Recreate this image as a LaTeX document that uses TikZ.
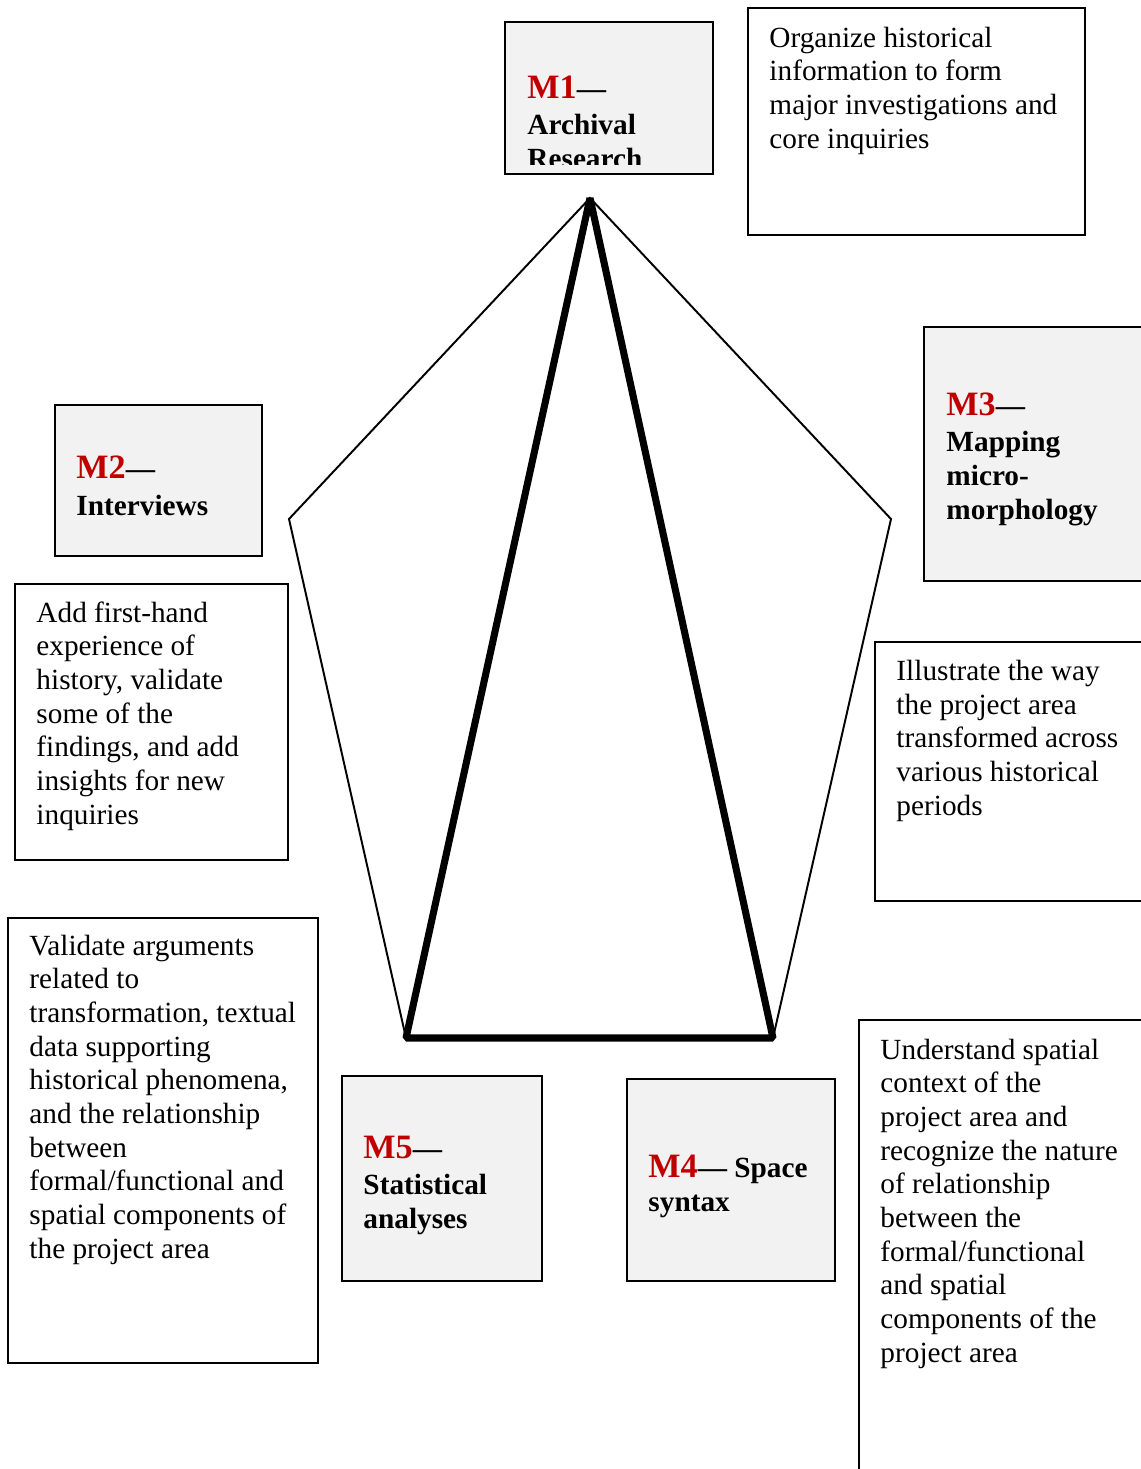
\documentclass[tikz,border=0pt]{standalone}
\usepackage{fontspec}
\setmainfont{Liberation Serif}
\definecolor{mred}{HTML}{C00000}
\definecolor{mgray}{HTML}{F2F2F2}
\tikzset{
  box/.style={draw=black, line width=1pt},
  mbox/.style={box, fill=mgray},
  txt/.style={anchor=base west, inner sep=0pt, align=left, font=\fontsize{12}{13.8}\selectfont},
  mtxt/.style={txt, font=\fontsize{12}{13.8}\selectfont\bfseries},
}
\newcommand{\mlab}[1]{{\color{mred}\fontsize{14}{13.8}\selectfont #1}}
\begin{document}
\begin{tikzpicture}[x=0.41pt, y=-0.41pt]
\useasboundingbox (0,0) rectangle (1141,1469);

% pentagon and triangle
\coordinate (top) at (590,198);
\coordinate (left) at (289,519);
\coordinate (right) at (891,519);
\coordinate (botl) at (406,1038);
\coordinate (botr) at (773,1038);

\draw[black, line width=0.8pt] (top) -- (left) -- (botl) -- (botr) -- (right) -- cycle;
\draw[black, line width=2.9pt, line join=bevel] (top) -- (botl) -- (botr) -- cycle;

% method boxes
\draw[mbox] (505,22) rectangle (713,174);
\draw[mbox] (55,405) rectangle (262,556);
\draw[mbox] (924,327) rectangle (1150,581);
\draw[mbox] (342,1076) rectangle (542,1281);
\draw[mbox] (627,1079) rectangle (835,1281);

% description boxes
\draw[box] (748,8) rectangle (1085,235);
\draw[box] (15,584) rectangle (288,860);
\draw[box] (875,642) rectangle (1150,901);
\draw[box] (8,918) rectangle (318,1363);
\draw[box] (859,1020) rectangle (1150,1480);

% node base = last line
\begin{scope}
\clip (505,22) rectangle (713,164);
\node[mtxt] (m1) at (527,168) {\mlab{M1}—\\[1pt] Archival\\ Research};
\end{scope}
\node[mtxt] (m2) at (76,515) {\mlab{M2}—\\[1pt] Interviews};
\node[mtxt] (m3) at (946,519) {\mlab{M3}—\\[1pt] Mapping\\ micro-\\ morphology};
\node[mtxt] (m5) at (363,1228) {\mlab{M5}—\\[1pt] Statistical\\ analyses};
\node[mtxt] (m4) at (648,1211) {\mlab{M4}— Space\\ syntax};

\node[txt] (d1) at (769,148) {Organize historical\\ information to form\\ major investigations and\\ core inquiries};
\node[txt] (d2) at (36,824) {Add first-hand\\ experience of\\ history, validate\\ some of the\\ findings, and add\\ insights for new\\ inquiries};
\node[txt] (d3) at (896,815) {Illustrate the way\\ the project area\\ transformed across\\ various historical\\ periods};
\node[txt] (d5) at (29,1258) {Validate arguments\\ related to\\ transformation, textual\\ data supporting\\ historical phenomena,\\ and the relationship\\ between\\ formal/functional and\\ spatial components of\\ the project area};
\node[txt] (d4) at (880,1362) {Understand spatial\\ context of the\\ project area and\\ recognize the nature\\ of relationship\\ between the\\ formal/functional\\ and spatial\\ components of the\\ project area};

\end{tikzpicture}
\end{document}
